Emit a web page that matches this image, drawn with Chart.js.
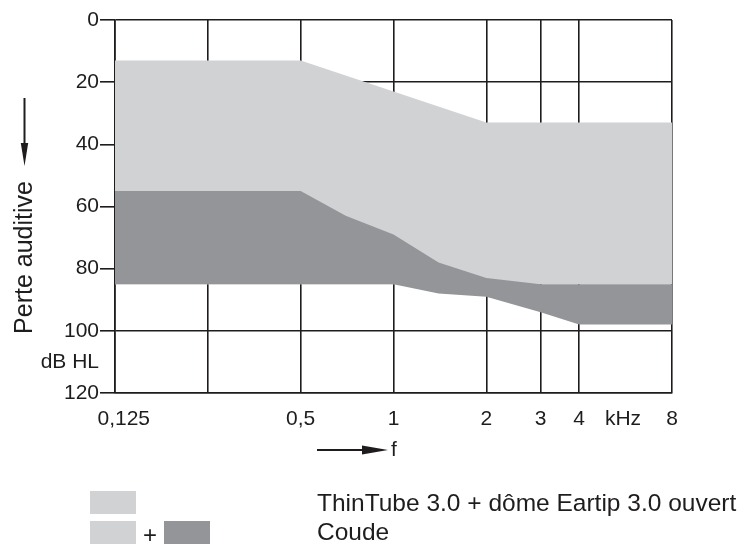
<!DOCTYPE html>
<html>
<head>
<meta charset="utf-8">
<script src="https://cdn.jsdelivr.net/npm/chart.js@4.4.1/dist/chart.umd.min.js"></script>
<style>
  html, body { margin: 0; padding: 0; background: #ffffff; }
  #wrap { position: relative; width: 749px; height: 547px; }
</style>
</head>
<body>
<div id="wrap"><canvas id="c"></canvas></div>
<script>
// ---- data ----
const freqTicks = [0.125, 0.25, 0.5, 1, 2, 3, 4, 5.55, 8];
const freqTickLabels = ['   0,125', '', '0,5', '1', '2', '3', '4', 'kHz', '8'];
const lossTicks = [0, 20, 40, 60, 80, 100, 110, 120];
const lossTickLabels = ['0', '20', '40', '60', '80', '100', 'dB HL', '120'];

const thinTubeFreq = [0.125, 0.5, 2, 8];
const thinTubeTop = [13, 13, 33, 33];
const thinTubeBottom = [85, 85, 85, 85];

const coudeFreq = [0.125, 0.5, 0.7, 1, 1.4, 2, 3, 4, 8];
const coudeTop = [55, 55, 63, 69, 78, 83, 85, 85, 85];
const coudeBottom = [85, 85, 85, 85, 88, 89, 94, 98, 98];

const legendLabels = ['ThinTube 3.0 + dôme Eartip 3.0 ouvert', 'Coude'];
const yTitle = 'Perte auditive';
const xTitle = 'f';

// ---- style ----
const LIGHT = '#d1d2d4';
const DARK = '#939598';
const INK = '#1f1c1d';
const FONT = "'Liberation Sans', Arial, Helvetica, sans-serif";

Chart.defaults.font.family = FONT;
Chart.defaults.font.size = 21;
Chart.defaults.color = INK;

const pts = (xs, ys) => xs.map((x, i) => ({ x: x, y: ys[i] }));
const areaLine = (data, fill, color) => ({
  data: data, fill: fill, backgroundColor: color || 'transparent',
  borderColor: 'transparent', borderWidth: 0, pointRadius: 0,
  pointHoverRadius: 0, tension: 0
});

const annotations = {
  id: 'annotations',
  afterDraw(chart) {
    const ctx = chart.ctx;
    ctx.save();
    ctx.fillStyle = INK;
    ctx.strokeStyle = INK;
    // y axis arrow + title
    ctx.lineWidth = 2;
    ctx.beginPath(); ctx.moveTo(24.5, 98); ctx.lineTo(24.5, 146); ctx.stroke();
    ctx.beginPath(); ctx.moveTo(24.5, 166); ctx.lineTo(20.8, 143); ctx.lineTo(28.2, 143); ctx.closePath(); ctx.fill();
    ctx.save();
    ctx.translate(32, 257.5);
    ctx.rotate(-Math.PI / 2);
    ctx.font = '25px ' + FONT;
    ctx.textAlign = 'center';
    ctx.textBaseline = 'alphabetic';
    ctx.fillText(yTitle, 0, 0);
    ctx.restore();
    // x arrow + f
    ctx.beginPath(); ctx.moveTo(317, 450); ctx.lineTo(366, 450); ctx.stroke();
    ctx.beginPath(); ctx.moveTo(388, 450); ctx.lineTo(362, 445.5); ctx.lineTo(362, 454.5); ctx.closePath(); ctx.fill();
    ctx.font = '21px ' + FONT;
    ctx.textAlign = 'left';
    ctx.textBaseline = 'alphabetic';
    ctx.fillText(xTitle, 391, 456);
    // legend
    ctx.fillStyle = LIGHT;
    ctx.fillRect(90, 491, 46, 23);
    ctx.fillRect(90, 521, 46, 23);
    ctx.fillStyle = DARK;
    ctx.fillRect(164, 521, 46, 23);
    ctx.fillStyle = INK;
    ctx.font = '24px ' + FONT;
    ctx.textAlign = 'center';
    ctx.fillText('+', 150, 543);
    ctx.textAlign = 'left';
    ctx.font = '24.5px ' + FONT;
    ctx.fillText(legendLabels[0], 317, 511);
    ctx.fillText(legendLabels[1], 317, 540);
    ctx.restore();
  }
};

new Chart(document.getElementById('c'), {
  type: 'line',
  data: {
    datasets: [
      areaLine(pts(coudeFreq, coudeTop), '+1', DARK),
      areaLine(pts(coudeFreq, coudeBottom), false),
      areaLine(pts(thinTubeFreq, thinTubeTop), '+1', LIGHT),
      areaLine(pts(thinTubeFreq, thinTubeBottom), false)
    ]
  },
  options: {
    responsive: true,
    maintainAspectRatio: false,
    animation: false,
    events: [],
    layout: { padding: { top: 20, right: 77, left: 0, bottom: 0 } },
    plugins: { legend: { display: false }, tooltip: { enabled: false } },
    scales: {
      x: {
        type: 'logarithmic',
        min: 0.125, max: 8,
        z: 1,
        afterBuildTicks: s => { s.ticks = freqTicks.map(v => ({ value: v })); },
        afterFit: s => { s.height = 154; },
        ticks: {
          callback: (v, i) => freqTickLabels[i],
          autoSkip: false, maxRotation: 0, minRotation: 0, padding: 14,
          font: { size: 21 }, color: INK
        },
        grid: {
          color: c => (freqTickLabels[c.index] === 'kHz' ? 'transparent' : INK),
          lineWidth: 1.6, drawTicks: false
        },
        border: { color: INK, width: 1.6 }
      },
      y: {
        type: 'linear',
        reverse: true,
        min: 0, max: 120,
        z: 1,
        afterBuildTicks: s => { s.ticks = lossTicks.map(v => ({ value: v })); },
        afterFit: s => { s.width = 115; },
        ticks: {
          callback: (v, i) => lossTickLabels[i],
          autoSkip: false, padding: 1,
          font: { size: 21 }, color: INK
        },
        grid: {
          color: c => (lossTickLabels[c.index] === 'dB HL' ? 'transparent' : INK),
          tickColor: c => (lossTickLabels[c.index] === 'dB HL' ? 'transparent' : INK),
          lineWidth: 1.6, tickLength: 15, tickWidth: 1.6
        },
        border: { color: INK, width: 1.6 }
      }
    }
  },
  plugins: [annotations]
});
</script>
</body>
</html>
